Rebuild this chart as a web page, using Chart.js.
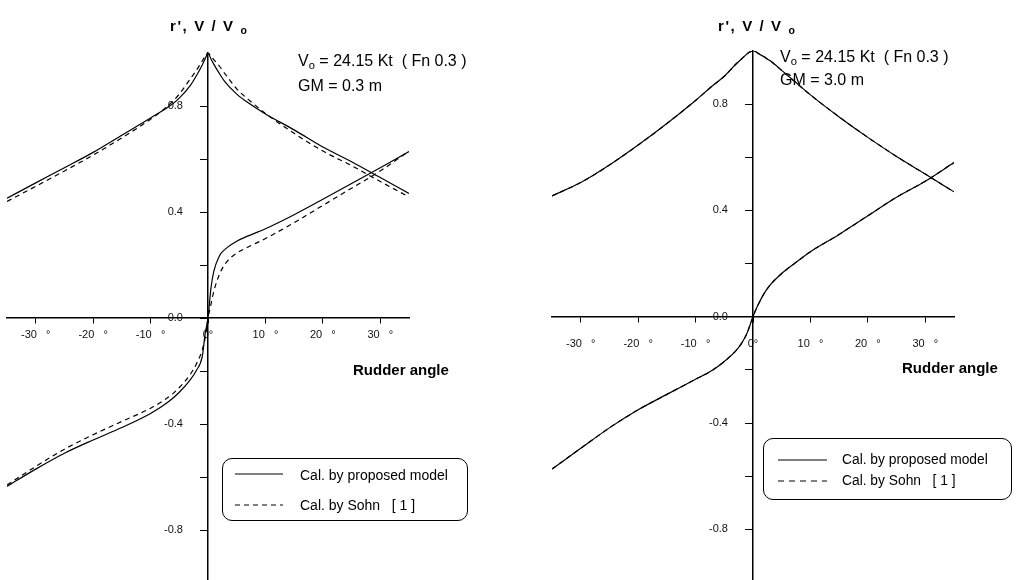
<!DOCTYPE html>
<html>
<head>
<meta charset="utf-8">
<script src="https://cdn.jsdelivr.net/npm/chart.js@4.4.0/dist/chart.umd.min.js"></script>
<style>
html,body{margin:0;padding:0;background:#fff;}
#wrap{position:relative;width:1022px;height:580px;overflow:hidden;font-family:"Liberation Sans",Arial,sans-serif;color:#000;}
canvas{position:absolute;top:0;}
.t{position:absolute;white-space:nowrap;line-height:1;transform:translateY(-50%);}
.sub{font-size:70%;position:relative;top:0.25em;}
.lg{position:absolute;border:1px solid #000;border-radius:10px;box-sizing:border-box;}
svg.s{position:absolute;overflow:visible;}
</style>
</head>
<body>
<div id="wrap">
  <canvas id="cl" width="511" height="620" style="left:0"></canvas>
  <canvas id="cr" width="511" height="620" style="left:511px"></canvas>

  <div class="t" style="left:170px;top:25px;font-size:15px;font-weight:bold;letter-spacing:1.6px">r', V / V <span class="sub">o</span></div>
  <div class="t" style="left:718px;top:25px;font-size:15px;font-weight:bold;letter-spacing:1.6px">r', V / V <span class="sub">o</span></div>

  <div class="t" style="left:298px;top:61px;font-size:16px">V<span class="sub">o</span> = 24.15 Kt&nbsp;&nbsp;( Fn 0.3 )</div>
  <div class="t" style="left:298px;top:86px;font-size:16px">GM = 0.3 m</div>
  <div class="t" style="left:780px;top:57px;font-size:16px">V<span class="sub">o</span> = 24.15 Kt&nbsp;&nbsp;( Fn 0.3 )</div>
  <div class="t" style="left:780px;top:80px;font-size:16px">GM = 3.0 m</div>

  <div class="t" style="left:353px;top:369px;font-size:15px;font-weight:bold">Rudder angle</div>
  <div class="t" style="left:902px;top:367px;font-size:15px;font-weight:bold">Rudder angle</div>

  <div class="lg" style="left:222px;top:458px;width:246px;height:63px"></div>
  <svg class="s" style="left:0;top:0" width="1" height="1">
    <line x1="235" y1="474" x2="283" y2="474" stroke="#000" stroke-width="1.2"/>
    <line x1="235" y1="505" x2="283" y2="505" stroke="#000" stroke-width="1.2" stroke-dasharray="5,4"/>
    <line x1="778" y1="460" x2="827" y2="460" stroke="#000" stroke-width="1.2"/>
    <line x1="778" y1="481" x2="827" y2="481" stroke="#000" stroke-width="1.2" stroke-dasharray="6,5"/>
  </svg>
  <div class="t" style="left:300px;top:475px;font-size:14px">Cal. by proposed model</div>
  <div class="t" style="left:300px;top:505px;font-size:14px">Cal. by Sohn&nbsp;&nbsp;&nbsp;[ 1 ]</div>

  <div class="lg" style="left:763px;top:438px;width:249px;height:62px"></div>
  <div class="t" style="left:842px;top:460px;font-size:13.8px">Cal. by proposed model</div>
  <div class="t" style="left:842px;top:481px;font-size:13.8px">Cal. by Sohn&nbsp;&nbsp;&nbsp;[ 1 ]</div>
</div>

<script>
// ---- data ----
const angles = [-35,-30,-25,-20,-15,-10,-7,-5,-3,-2,-1,-0.5,0,0.5,1,2,3,5,7,10,15,20,25,30,35];

// Left panel: GM = 0.3 m
const leftSpeedModel = [0.452,0.51,0.567,0.625,0.69,0.755,0.795,0.83,0.88,0.915,0.955,0.977,1.0,0.978,0.958,0.922,0.89,0.845,0.812,0.77,0.71,0.645,0.59,0.53,0.47];
const leftSpeedSohn  = [0.44,0.497,0.555,0.615,0.68,0.75,0.8,0.845,0.905,0.935,0.97,0.987,1.0,0.988,0.975,0.95,0.92,0.865,0.825,0.772,0.697,0.63,0.575,0.515,0.457];
const leftYawModel   = [-0.635,-0.57,-0.51,-0.46,-0.413,-0.36,-0.318,-0.28,-0.23,-0.197,-0.145,-0.06,0.0,0.11,0.175,0.235,0.26,0.29,0.31,0.337,0.39,0.448,0.508,0.567,0.628];
const leftYawSohn    = [-0.63,-0.56,-0.495,-0.44,-0.39,-0.34,-0.3,-0.262,-0.21,-0.172,-0.12,-0.075,0.0,0.05,0.1,0.165,0.205,0.245,0.268,0.3,0.36,0.425,0.49,0.555,0.63];

// Right panel: GM = 3.0 m
const rightSpeedModel = [0.455,0.505,0.571,0.646,0.727,0.814,0.87,0.905,0.95,0.97,0.99,0.997,1.0,0.997,0.99,0.977,0.963,0.927,0.89,0.835,0.752,0.675,0.603,0.537,0.47];
const rightSpeedSohn  = [0.455,0.505,0.571,0.646,0.727,0.814,0.87,0.905,0.95,0.97,0.99,0.997,1.0,0.997,0.99,0.977,0.963,0.927,0.89,0.835,0.752,0.675,0.603,0.537,0.47];
const rightYawModel   = [-0.573,-0.495,-0.418,-0.35,-0.292,-0.235,-0.2,-0.168,-0.128,-0.1,-0.06,-0.03,0.0,0.027,0.05,0.09,0.12,0.163,0.197,0.245,0.31,0.38,0.45,0.51,0.58];
const rightYawSohn    = [-0.573,-0.495,-0.418,-0.35,-0.292,-0.235,-0.2,-0.168,-0.128,-0.1,-0.06,-0.03,0.0,0.027,0.05,0.09,0.12,0.163,0.197,0.245,0.31,0.38,0.45,0.51,0.58];

// tick values and labels
const xTickValues = [-30,-20,-10,0,10,20,30];
const xTickLabels = ['-30   °','-20   °','-10   °','0°','10   °','20   °','30   °'];
const yTickValues = [-0.8,-0.6,-0.4,-0.2,0,0.2,0.4,0.6,0.8];
const yTickLabels = ['-0.8','','-0.4','','0.0','','0.4','','0.8'];

const GAP = '\u2002\u2002\u2002\u2002 '; // keeps y labels clear of the axis

function pts(arr){ return angles.map((a,i)=>({x:a,y:arr[i]})); }

function ds(label, arr, dashed){
  return {
    label: label,
    data: pts(arr),
    borderColor:'#000',
    borderWidth:1.2,
    borderDash: dashed ? [5,4] : [],
    pointRadius:0,
    fill:false,
    cubicInterpolationMode:'monotone',
    showLine:true
  };
}

function makeChart(id, datasets, pad, yMin, xLabelPad){
  return new Chart(document.getElementById(id), {
    type:'scatter',
    data:{datasets:datasets},
    options:{
      responsive:false,
      animation:false,
      devicePixelRatio:1,
      layout:{padding:pad},
      plugins:{legend:{display:false},tooltip:{enabled:false},title:{display:false}},
      scales:{
        x:{
          type:'linear', min:-35, max:35, position:{y:0},
          afterBuildTicks:(s)=>{ s.ticks = xTickValues.map(v=>({value:v})); },
          ticks:{
            callback:(v,i)=>xTickLabels[i],
            color:'#111', font:{family:'"Liberation Sans", Arial, sans-serif', size:11},
            maxRotation:0, autoSkip:false, padding:xLabelPad
          },
          grid:{display:true, drawOnChartArea:false, drawTicks:true, tickLength:5, color:'#000', lineWidth:1},
          border:{display:true, color:'#000', width:1.5}
        },
        y:{
          type:'linear', min:yMin, max:1.0, position:{x:0},
          afterBuildTicks:(s)=>{ s.ticks = yTickValues.map(v=>({value:v})); },
          ticks:{
            callback:(v,i)=> yTickLabels[i] ? yTickLabels[i] + GAP : '',
            color:'#111', font:{family:'"Liberation Sans", Arial, sans-serif', size:11},
            autoSkip:false, padding:0
          },
          grid:{display:true, drawOnChartArea:false, drawTicks:true, tickLength:7, color:'#000', lineWidth:1},
          border:{display:true, color:'#000', width:1.5}
        }
      }
    }
  });
}

makeChart('cl', [
  ds('Cal. by proposed model (V/Vo)', leftSpeedModel, false),
  ds('Cal. by Sohn [1] (V/Vo)', leftSpeedSohn, true),
  ds('Cal. by proposed model (r\')', leftYawModel, false),
  ds('Cal. by Sohn [1] (r\')', leftYawSohn, true)
], {left:7, right:102, top:53, bottom:30}, -1.026, 5.5);

makeChart('cr', [
  ds('Cal. by Sohn [1] (V/Vo)', rightSpeedSohn, true),
  ds('Cal. by proposed model (V/Vo)', rightSpeedModel, false),
  ds('Cal. by Sohn [1] (r\')', rightYawSohn, true),
  ds('Cal. by proposed model (r\')', rightYawModel, false)
], {left:41, right:68, top:51, bottom:30}, -1.028, 15.6);
</script>
</body>
</html>
